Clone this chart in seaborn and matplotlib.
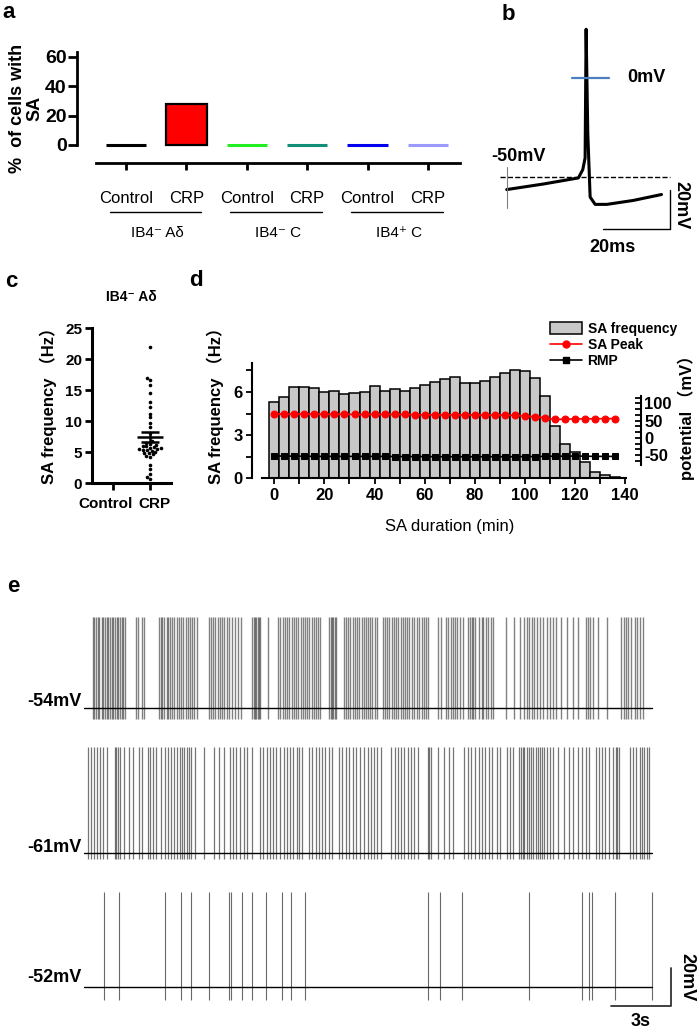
import numpy as np
import pandas as pd
import matplotlib
matplotlib.use("Agg")
import matplotlib.pyplot as plt
import matplotlib.ticker as mticker
import matplotlib.transforms as mtransforms
from matplotlib.lines import Line2D
from matplotlib.patches import Patch
import seaborn as sns

sns.set_theme(style="ticks", rc={"axes.edgecolor": "black", "xtick.color": "black",
                                 "ytick.color": "black", "text.color": "black"})
plt.rcParams["font.family"] = ["Liberation Sans", "DejaVu Sans", "Noto Sans CJK SC"]
plt.rcParams["axes.unicode_minus"] = False

W, H = 697, 1029

# ---- panel a: % of cells with spontaneous activity
A_GROUPS = ["IB4⁻ Aδ", "IB4⁻ C", "IB4⁺ C"]
A_CONDITIONS = ["Control", "CRP"]
A_PERCENT = [0, 28, 0, 0, 0, 0]
A_COLORS = ["#000000", "#ff0000", "#22ee22", "#118f78", "#0000ee", "#9a9aff"]

# ---- panel b: single action potential
B_TIME_MS = [0, 10.9, 21.4, 22.7, 23.4, 23.7, 24.2, 24.9, 26.4, 29.9, 37.8, 46.2]
B_VOLT_MV = [-56.5, -53.7, -50.6, -46.4, -40.5, 24.7, -28, -60.3, -64, -64, -62, -59]

# ---- panel c: SA frequency of IB4- A-delta neurons
C_GROUPS = ["Control", "CRP"]
C_CRP_HZ = [22.0, 17.0, 16.6, 15.8, 14.5, 13.0, 12.3, 11.2, 10.6, 9.6, 9.0, 8.0,
            6.8, 6.5, 6.3, 6.2, 6.0, 5.9, 5.8, 5.7, 5.6, 5.5, 5.5, 5.4, 5.3, 5.2,
            5.0, 4.9, 4.8, 4.6, 4.4, 4.2, 2.9, 2.2, 1.4, 0.9, 0.6]

# ---- panel d: SA time course
D_DURATION_MIN = [0, 4, 8, 12, 16, 20, 24, 28, 32, 36, 40, 44, 48, 52, 56, 60, 64, 68,
                  72, 76, 80, 84, 88, 92, 96, 100, 104, 108, 112, 116, 120, 124, 128, 132, 136]
D_FREQ_HZ = [5.3, 5.65, 6.33, 6.35, 6.3, 6.0, 6.05, 5.88, 5.95, 6.0, 6.4, 6.08, 6.18, 6.04,
             6.26, 6.5, 6.72, 6.88, 7.05, 6.63, 6.64, 6.8, 7.08, 7.33, 7.54, 7.46, 7.0, 5.75,
             3.65, 2.38, 1.83, 1.12, 0.47, 0.24, 0.08]
D_PEAK_MV = [68.5, 69, 68.5, 69, 68.5, 68, 68, 68, 67.5, 67.5, 68, 67.5, 67.5, 67.5, 67,
             66.5, 66.5, 66.5, 66.5, 66, 66, 66, 66, 65.5, 65, 63, 61, 58, 53, 54, 54.5,
             55, 55, 55.5, 55.5]
D_RMP_MV = [-53, -53, -53.5, -53.5, -54, -54, -54, -54, -54, -54, -54, -54, -54.5, -54.5,
            -54.5, -54.5, -55, -55, -55, -55, -55, -55, -55, -55, -55, -54.5, -54.5, -54,
            -53.5, -53.5, -53, -53.5, -54, -54, -54]

# ---- panel e: spontaneous firing traces (spike times in s)
E_BASELINE_MV = [-54, -61, -52]
E_PEAK_MV = [-6, -5, -2]
E_TROUGH_MV = [-60, -64, -59]
E_DURATION_S = 28.4
E1_SPIKES_S = [0.41, 0.5, 0.56, 0.66, 0.75, 0.86, 0.95, 1.03, 1.11, 1.2, 1.28, 1.36, 1.45, 1.53,
               1.61, 1.7, 1.78, 1.86, 1.95, 2.03, 2.58, 2.66, 2.9, 3.0,
               3.73, 3.83, 3.9, 4.0, 4.11, 4.2, 4.28, 4.4, 4.5, 4.61, 4.73, 4.83, 4.95, 5.06,
               5.16, 5.28, 5.4, 5.5, 5.61,
               6.23, 6.33, 6.45, 6.53, 6.66, 6.78, 6.86, 7.0, 7.11, 7.23, 7.36, 7.53, 7.7, 7.81,
               8.4, 8.46, 8.53, 8.6, 8.66, 8.73, 8.78, 9.16,
               9.7, 9.78, 9.92, 10.03, 10.15, 10.25, 10.37, 10.48, 10.58, 10.7, 10.82, 10.92,
               11.03, 11.15, 11.25, 11.37, 11.48, 11.58, 11.7, 11.78,
               12.25, 12.32, 12.38, 12.45, 12.52, 12.58,
               12.98, 13.08, 13.2, 13.28, 13.42, 13.53, 13.65, 13.75, 13.87, 13.98, 14.08, 14.2,
               14.28, 14.37, 14.53, 14.65,
               14.95, 15.03, 15.12, 15.25, 15.37, 15.48, 15.58, 15.7, 15.82, 15.92,
               16.03, 16.15, 16.25, 16.37, 16.48, 16.62, 16.75, 16.87, 16.98, 17.08, 17.2,
               17.67, 17.82, 18.08, 18.2, 18.32, 18.42, 18.53, 18.65, 18.78, 18.92,
               19.2, 19.28, 19.37, 19.45, 19.53, 19.75, 19.87, 19.95, 20.08, 20.2, 20.32, 20.45,
               21.1, 21.5, 21.78, 21.96, 22.11, 22.22, 22.36, 22.49, 22.62, 22.78, 22.93, 23.11,
               23.29, 23.44, 23.56, 23.82, 24.11, 24.44, 24.67, 25.07, 25.18, 25.29, 25.44,
               25.67, 26.11, 26.84, 26.96, 27.07, 27.2, 27.33, 27.51, 27.64, 27.78, 27.93]
E2_SPIKES_S = [0.18, 0.33, 0.49, 0.62, 0.78, 0.93, 1.11, 1.51, 1.6, 1.69, 1.78, 2.0, 2.22, 2.44,
               2.71, 2.89, 3.16, 3.29, 3.44, 3.6, 3.82, 4.04, 4.18, 4.33, 4.49, 4.62, 4.78, 4.89,
               5.0, 5.11, 5.22, 5.33, 5.51, 6.0, 6.49, 6.71, 7.0, 7.29, 7.44, 7.6, 7.78, 7.96,
               8.11, 8.4, 8.78, 8.93, 9.11, 9.29, 9.44, 9.6, 9.78, 9.96, 10.11, 10.27, 10.44,
               10.62, 10.71, 10.89, 11.22, 11.38, 11.56, 11.73, 11.89, 12.04, 12.22, 12.4, 12.71,
               12.89, 13.07, 13.22, 13.44, 13.6, 13.78, 14.0, 14.18, 14.33, 14.49, 14.62, 14.84,
               15.33, 15.51, 15.67, 15.82, 16.0, 16.18, 16.33, 16.49, 16.67, 17.16, 17.24, 17.33,
               17.67, 17.96, 18.22, 18.44, 19.0, 19.16, 19.33, 19.51, 19.73, 19.89, 20.04, 20.22,
               20.4, 20.62, 20.78, 21.11, 21.29, 21.44, 21.73, 21.82, 21.91, 22.0, 22.11, 22.22,
               22.33, 22.44, 22.56, 22.67, 22.78, 22.89, 23.0, 23.11, 23.29, 23.44, 23.67, 23.96,
               24.22, 24.44, 24.67, 24.89, 25.07, 25.22, 25.56, 25.73, 25.89, 26.04, 26.22,
               26.44, 26.58, 26.64, 26.71, 27.29, 27.44, 27.6, 27.78, 27.89, 28.0, 28.11, 28.22]
E3_SPIKES_S = [0.96, 1.71, 4.02, 4.84, 5.31, 6.22, 7.22, 7.31, 7.87, 8.36, 9.09, 9.89, 10.31,
               11.04, 17.2, 17.76, 18.89, 22.24, 24.89, 25.24, 25.38, 26.53, 28.36]

fig = plt.figure(figsize=(W / 100, H / 100), dpi=100)


def px_axes(left, top, right, bottom):
    return fig.add_axes([left / W, 1 - bottom / H, (right - left) / W, (bottom - top) / H])


def ftext(x, y, s, **kw):
    kw.setdefault("ha", "center")
    kw.setdefault("va", "center")
    return fig.text(x / W, 1 - y / H, s, **kw)


def bold_ticks(ax, axis="both"):
    labels = []
    if axis in ("x", "both"):
        labels += ax.get_xticklabels()
    if axis in ("y", "both"):
        labels += ax.get_yticklabels()
    for lbl in labels:
        lbl.set_fontweight("bold")


# ------------------------------------------------------------------ panel a
ax_a = px_axes(77, 52, 460, 163)
keys = [f"{g}|{c}" for g in A_GROUPS for c in A_CONDITIONS]
df_a = pd.DataFrame({"key": keys, "pct": A_PERCENT})
sns.barplot(data=df_a, x="key", y="pct", hue="key", palette=A_COLORS, width=0.67,
            saturation=1, legend=False, ax=ax_a)
for patch, col, val in zip(ax_a.patches, A_COLORS, A_PERCENT):
    patch.set_edgecolor("black" if val > 0 else col)
    patch.set_linewidth(1.6 if val > 0 else 2.2)
ax_a.set_xlim(-0.81, 5.53)
ax_a.set_ylim(-12.3, 63.4)
sns.despine(ax=ax_a)
ax_a.spines["left"].set_bounds(0, 63.4)
ax_a.spines["bottom"].set_bounds(-0.5, 5.53)
for s in ("left", "bottom"):
    ax_a.spines[s].set_linewidth(2)
ax_a.set_yticks([0, 20, 40, 60])
ax_a.set_xticks(range(len(keys)))
ax_a.set_xticklabels(A_CONDITIONS * len(A_GROUPS))
ax_a.tick_params(axis="y", length=6.5, width=2, labelsize=14, pad=1)
ax_a.tick_params(axis="x", length=5, width=2, labelsize=12, pad=15)
bold_ticks(ax_a, "y")
ax_a.set_xlabel("")
ax_a.set_ylabel("")
ftext(26, 108, "%  of cells with\nSA", rotation=90, fontsize=13, weight="bold",
      multialignment="center", linespacing=1.0)
trans_a = mtransforms.blended_transform_factory(ax_a.transData, ax_a.transAxes)
for g, name in enumerate(A_GROUPS):
    ax_a.plot([2 * g - 0.27, 2 * g + 1.25], [-0.441, -0.441], color="black", lw=1,
              transform=trans_a, clip_on=False)
    ax_a.text(2 * g + 0.52, -0.63, name, transform=trans_a, ha="center", va="center",
              fontsize=11)

# ------------------------------------------------------------------ panel b
ax_b = px_axes(470, 5, 697, 265)
sns.lineplot(x=B_TIME_MS, y=B_VOLT_MV, sort=False, estimator=None, color="black",
             lw=2.2, ax=ax_b)
ax_b.plot([-2, 48.7], [-50, -50], ls="--", color="black", lw=1)
ax_b.plot([19.5, 30.5], [0, 0], color="#4a7fc0", lw=1.6)
ax_b.plot([0, 0], [-45, -66], color="grey", lw=0.8)
ax_b.plot([28.7, 48.7, 48.7], [-76.5, -76.5, -56.5], color="black", lw=1)
ax_b.set_xlim(-10.96, 56.8)
ax_b.set_ylim(-94.7, 36.96)
ax_b.axis("off")
ax_b.text(35.9, 0, "0mV", ha="left", va="center", fontsize=13, weight="bold")
ax_b.text(-4.5, -39.8, "-50mV", ha="left", va="center", fontsize=13, weight="bold")
ax_b.text(51.9, -64.3, "20mV", ha="center", va="center", rotation=270, fontsize=13,
          weight="bold")
ax_b.text(31.7, -86, "20ms", ha="center", va="center", fontsize=13, weight="bold")

# ------------------------------------------------------------------ panel c
ax_c = px_axes(92, 328, 171, 483)
df_c = pd.DataFrame({"group": ["CRP"] * len(C_CRP_HZ), "hz": C_CRP_HZ})
sns.swarmplot(data=df_c, x="group", y="hz", order=C_GROUPS, color="black", size=2.6,
              ax=ax_c)
mean_c = np.mean(C_CRP_HZ)
sem_c = np.std(C_CRP_HZ, ddof=1) / np.sqrt(len(C_CRP_HZ))
ax_c.hlines(mean_c, 1 - 0.36, 1 + 0.36, color="black", lw=1.8)
ax_c.hlines([mean_c - sem_c, mean_c + sem_c], 1 - 0.24, 1 + 0.24, color="black", lw=1.8)
ax_c.vlines(1, mean_c - sem_c, mean_c + sem_c, color="black", lw=1.8)
ax_c.set_xlim(-0.57, 1.57)
ax_c.set_ylim(0, 25)
sns.despine(ax=ax_c)
for s in ("left", "bottom"):
    ax_c.spines[s].set_linewidth(2.2)
ax_c.set_yticks([0, 5, 10, 15, 20, 25])
ax_c.tick_params(axis="both", length=5, width=2, labelsize=11, pad=2)
ax_c.tick_params(axis="x", pad=5)
bold_ticks(ax_c)
ax_c.set_xlabel("")
ax_c.set_ylabel("")
for lbl, dx in zip(ax_c.get_xticklabels(), (-7, 4)):
    lbl.set_transform(lbl.get_transform()
                      + mtransforms.ScaledTranslation(dx / 100, 0, fig.dpi_scale_trans))
ftext(131, 297, "IB4⁻ Aδ", fontsize=10, weight="bold")
ftext(48, 402, "SA frequency （Hz）", rotation=90, fontsize=12, weight="bold")

# ------------------------------------------------------------------ panel d
ax_d = px_axes(262, 363.3, 626, 478.3)
sns.barplot(x=D_DURATION_MIN, y=D_FREQ_HZ, native_scale=True, width=1, color="#c8c8c8",
            saturation=1, edgecolor="black", linewidth=1.1, ax=ax_d)
ax_d2 = ax_d.twinx()
sns.lineplot(x=D_DURATION_MIN, y=D_PEAK_MV, color="red", marker="o", markersize=5,
             markeredgecolor="red", lw=1.2, ax=ax_d2)
sns.lineplot(x=D_DURATION_MIN, y=D_RMP_MV, color="black", marker="s", markersize=4.5,
             markeredgecolor="black", lw=1.2, ax=ax_d2)
ax_d.set_xlim(-4.9, 140.3)
ax_d.set_ylim(0, 8)
ax_d2.set_ylim(-117.6, 216)
sns.despine(ax=ax_d)
ax_d.spines["left"].set_position(("outward", 7))
for s in ("top", "left", "bottom"):
    ax_d2.spines[s].set_visible(False)
ax_d2.spines["right"].set_position(("outward", 11))
ax_d2.spines["right"].set_bounds(-80, 120)
for sp in (ax_d.spines["left"], ax_d.spines["bottom"], ax_d2.spines["right"]):
    sp.set_linewidth(1.5)
ax_d.set_xticks([0, 20, 40, 60, 80, 100, 120, 140])
ax_d.xaxis.set_minor_locator(mticker.MultipleLocator(10))
ax_d.set_yticks([0, 3, 6])
ax_d.yaxis.set_minor_locator(mticker.MultipleLocator(1.5))
ax_d.tick_params(axis="both", which="both", length=4, width=1.3, labelsize=12, pad=3)
ax_d2.set_yticks([-50, 0, 50, 100])
ax_d2.yaxis.set_minor_locator(mticker.FixedLocator(
    [v for v in np.arange(-100, 125, 50 / 3) if -80 <= v <= 120]))
ax_d2.tick_params(axis="y", which="both", direction="in", length=4, width=1.3,
                  labelsize=12, pad=2)
bold_ticks(ax_d)
bold_ticks(ax_d2, "y")
for a in (ax_d, ax_d2):
    a.set_xlabel("")
    a.set_ylabel("")
ftext(215, 402, "SA frequency （Hz）", rotation=90, fontsize=12, weight="bold")
ftext(686, 414, "potential （mV）", rotation=90, fontsize=12, weight="bold")
ftext(450, 527, "SA duration (min)", fontsize=12)
handles = [Patch(facecolor="#c8c8c8", edgecolor="black", lw=1.1),
           Line2D([], [], color="red", marker="o", ms=5, lw=1.2),
           Line2D([], [], color="black", marker="s", ms=4.5, lw=1.2)]
fig.legend(handles, ["SA frequency", "SA Peak", "RMP"], loc="upper left",
           bbox_to_anchor=(550 / W, 1 - 322 / H), frameon=False,
           prop={"weight": "bold", "size": 10}, handlelength=2.3, handleheight=0.9,
           handletextpad=0.4, labelspacing=0.15, borderpad=0, borderaxespad=0)

# ------------------------------------------------------------------ panel e
E_SPIKES = [E1_SPIKES_S, E2_SPIKES_S, E3_SPIKES_S]
E_BASE_PX = [708, 853, 987]
E_LABEL_PX = [702, 847, 977]
E_SPIKE_STYLE = [dict(color="#1a1a1a", lw=1.0, alpha=0.55),
                 dict(color="#1a1a1a", lw=0.9, alpha=0.6),
                 dict(color="#444444", lw=0.8, alpha=0.8)]
MV_PX = 1.9
for i, spikes in enumerate(E_SPIKES):
    base = E_BASELINE_MV[i]
    ax_e = px_axes(60, E_BASE_PX[i] - 110, 697, E_BASE_PX[i] + 40)
    ax_e.vlines(spikes, E_TROUGH_MV[i], E_PEAK_MV[i], **E_SPIKE_STYLE[i])
    sns.lineplot(x=[0, E_DURATION_S], y=[base, base], color="black", lw=1.0, ax=ax_e)
    ax_e.set_xlim(-1.22, 30.63)
    ax_e.set_ylim(base - 40 / MV_PX, base + 110 / MV_PX)
    ax_e.axis("off")
    ftext(82, E_LABEL_PX[i], f"{base}mV", ha="right", fontsize=13, weight="bold")
    if i == 2:
        ax_e.plot([26.33, 29.33, 29.33], [base - 10, base - 10, base + 10],
                  color="#333333", lw=1.3)
        ax_e.text(27.8, base - 18.4, "3s", ha="center", va="center", fontsize=13,
                  weight="bold")
        ax_e.text(30.1, base + 5.3, "20mV", ha="center", va="center", rotation=270,
                  fontsize=13, weight="bold")

# ------------------------------------------------------------------ panel letters
for letter, (x, y) in {"a": (9, 13), "b": (508, 15), "c": (11, 282), "d": (196, 280),
                       "e": (13, 587)}.items():
    ftext(x, y, letter, fontsize=16, weight="bold")

fig.savefig("out.png", dpi=100)
